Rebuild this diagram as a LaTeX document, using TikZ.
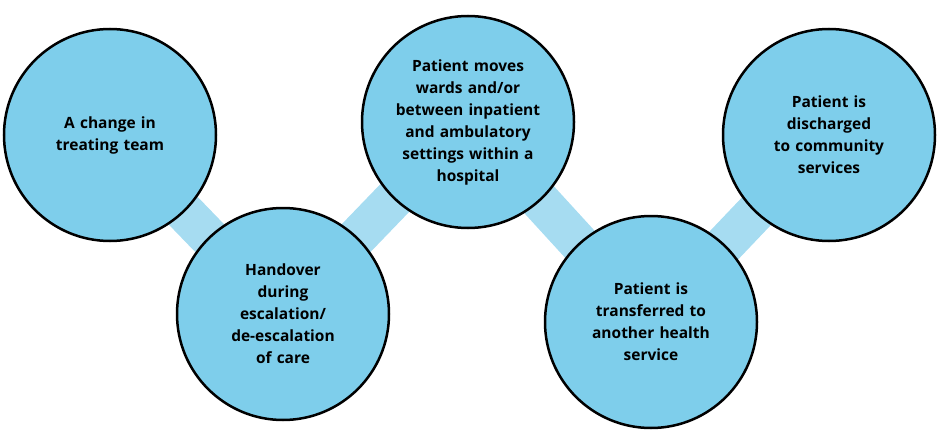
\documentclass[tikz,border=0pt]{standalone}
\usepackage{fontspec}
\setmainfont{Open Sans}
\definecolor{cfill}{HTML}{7ECEEB}
\definecolor{band}{HTML}{A6DCF1}
\begin{document}
\begin{tikzpicture}[x=1pt,y=-1pt,
  c/.style={circle,draw=black,line width=2.5pt,fill=cfill,minimum size=212pt,inner sep=0pt,
    font=\fontsize{15.5}{22}\selectfont\bfseries,align=center,text width=150pt},
  b/.style={band,line width=40pt}]
\useasboundingbox (0,0) rectangle (937,441);
\coordinate (p1) at (110,135);
\coordinate (p2) at (283,314);
\coordinate (p3) at (468,122);
\coordinate (p4) at (651,322);
\coordinate (p5) at (829,135);
\draw[b] (p1)--(p2)--(p3)--(p4)--(p5);
\node[c] (a) at (p1) {A change in\\treating team};
\node[c] (b) at (p2) {Handover\\during\\escalation/\\de-escalation\\of care};
\node[c] (c) at (p3) {Patient moves\\wards and/or\\between inpatient\\and ambulatory\\settings within a\\hospital};
\node[c] (d) at (p4) {Patient is\\transferred to\\another health\\service};
\node[c] (e) at (p5) {Patient is discharged\\to community\\services};
\end{tikzpicture}
\end{document}
